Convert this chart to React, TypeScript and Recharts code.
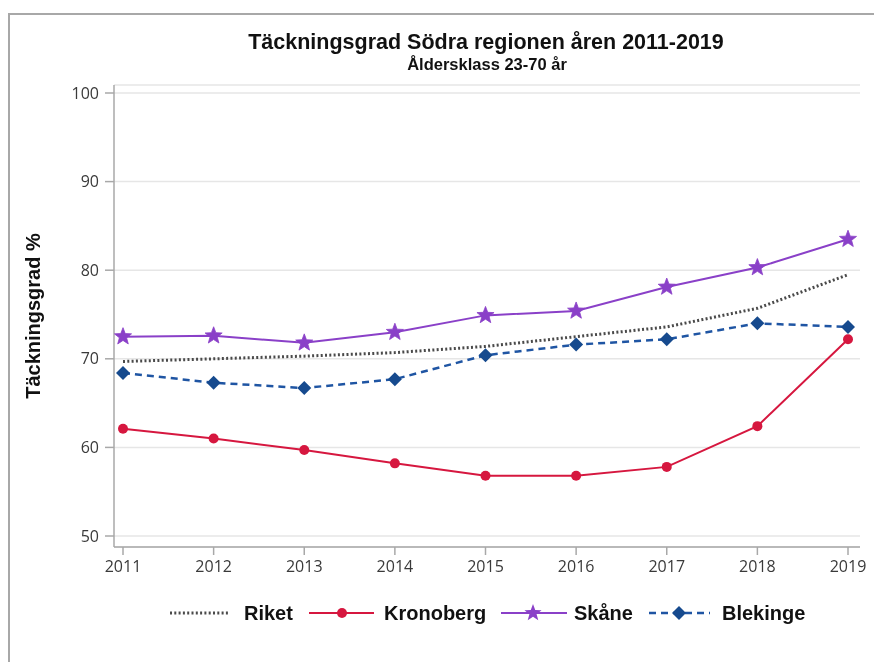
import { LineChart, Line, XAxis, YAxis, CartesianGrid, Legend } from 'recharts';

// values
const years = ['2011', '2012', '2013', '2014', '2015', '2016', '2017', '2018', '2019'];
const riket = [69.7, 70.0, 70.3, 70.7, 71.4, 72.5, 73.6, 75.7, 79.5];
const kronoberg = [62.1, 61.0, 59.7, 58.2, 56.8, 56.8, 57.8, 62.4, 72.2];
const skane = [72.5, 72.6, 71.8, 73.0, 74.9, 75.4, 78.1, 80.3, 83.5];
const blekinge = [68.4, 67.3, 66.7, 67.7, 70.4, 71.6, 72.2, 74.0, 73.6];
const yTicks = [50, 60, 70, 80, 90, 100];

const data = years.map((year, i) => ({
    year,
    Riket: riket[i],
    Kronoberg: kronoberg[i],
    Skåne: skane[i],
    Blekinge: blekinge[i],
}));

const RED = '#d6173f';
const PURPLE = '#8a40c8';
const BLUE = '#1f55a3';
const DIAMOND = '#164a8e';
const GREY = '#4a4a4a';

const starPath = (cx: number, cy: number, r: number) => {
    const pts: string[] = [];
    for (let i = 0; i < 10; i++) {
        const rad = i % 2 === 0 ? r : r * 0.42;
        const a = -Math.PI / 2 + (i * Math.PI) / 5;
        pts.push(`${cx + rad * Math.cos(a)},${cy + rad * Math.sin(a)}`);
    }
    return `M${pts.join('L')}Z`;
};

const StarDot = (props: any) => {
    const { cx, cy, index } = props;
    if (cx == null || cy == null) return <g key={`st-${index}`} />;
    return <path key={`st-${index}`} d={starPath(cx, cy, 9)} fill={PURPLE} stroke={PURPLE} strokeWidth={0.8} />;
};

const DiamondDot = (props: any) => {
    const { cx, cy, index } = props;
    if (cx == null || cy == null) return <g key={`dm-${index}`} />;
    const s = 7;
    return (
        <path
            key={`dm-${index}`}
            d={`M${cx},${cy - s}L${cx + s},${cy}L${cx},${cy + s}L${cx - s},${cy}Z`}
            fill={DIAMOND}
        />
    );
};

const legendText = { fontFamily: '"Liberation Sans", Arial, sans-serif', fontWeight: 700, fontSize: 20, fill: '#111' };

const renderLegend = () => (
    <svg width={866} height={30} style={{ display: 'block' }}>
        <g>
            <line x1={162} x2={221} y1={15} y2={15} stroke={GREY} strokeWidth={3} strokeDasharray="2 2.3" />
            <text x={236} y={22} {...legendText}>Riket</text>

            <line x1={301} x2={366} y1={15} y2={15} stroke={RED} strokeWidth={2} />
            <circle cx={334} cy={15} r={5} fill={RED} />
            <text x={376} y={22} {...legendText}>Kronoberg</text>

            <line x1={493} x2={559} y1={15} y2={15} stroke={PURPLE} strokeWidth={2} />
            <path d={starPath(525, 15, 9)} fill={PURPLE} />
            <text x={566} y={22} {...legendText}>Skåne</text>

            <line x1={641} x2={702} y1={15} y2={15} stroke={BLUE} strokeWidth={2.5} strokeDasharray="7 5" />
            <path d="M671,8L678,15L671,22L664,15Z" fill={DIAMOND} />
            <text x={714} y={22} {...legendText}>Blekinge</text>
        </g>
    </svg>
);

const tickStyle = { fontFamily: '"Open Sans", sans-serif', fontSize: 16, fill: '#3a3a3a' };

export default function App() {
    return (
        <div style={{ position: 'relative', width: 866, height: 640 }}>
            <div
                style={{
                    position: 'fixed',
                    top: 13,
                    left: 8,
                    right: 0,
                    bottom: 0,
                    borderTop: '2px solid #a8a8a8',
                    borderLeft: '2px solid #a8a8a8',
                    pointerEvents: 'none',
                }}
            />
            <div
                style={{
                    position: 'absolute',
                    top: 21,
                    left: 0,
                    width: 956,
                    textAlign: 'center',
                    fontFamily: '"Liberation Sans", Arial, sans-serif',
                    fontWeight: 700,
                    fontSize: 21.5,
                    color: '#111',
                    lineHeight: '26px',
                }}
            >
                Täckningsgrad Södra regionen åren 2011-2019
            </div>
            <div
                style={{
                    position: 'absolute',
                    top: 46,
                    left: 0,
                    width: 958,
                    textAlign: 'center',
                    fontFamily: '"Liberation Sans", Arial, sans-serif',
                    fontWeight: 700,
                    fontSize: 16.5,
                    color: '#111',
                    lineHeight: '20px',
                }}
            >
                Åldersklass 23-70 år
            </div>
            <LineChart width={866} height={640} data={data} margin={{ top: 77, right: 14, left: 0, bottom: 20 }}>
                <CartesianGrid vertical={false} stroke="#e6e6e6" strokeWidth={1.5} />
                <XAxis
                    dataKey="year"
                    height={51}
                    padding={{ left: 9, right: 12 }}
                    tick={tickStyle}
                    tickSize={8}
                    tickMargin={6}
                    stroke="#a8a8a8"
                    strokeWidth={1.5}
                    interval={0}
                />
                <YAxis
                    width={106}
                    type="number"
                    domain={[50, 100]}
                    ticks={yTicks}
                    padding={{ top: 8, bottom: 11 }}
                    tick={tickStyle}
                    tickSize={9}
                    tickMargin={6}
                    stroke="#a8a8a8"
                    strokeWidth={1.5}
                    label={{
                        value: 'Täckningsgrad %',
                        angle: -90,
                        position: 'insideLeft',
                        offset: 25,
                        style: {
                            textAnchor: 'middle',
                            fontFamily: '"Liberation Sans", Arial, sans-serif',
                            fontWeight: 700,
                            fontSize: 20,
                            fill: '#111',
                        },
                    }}
                />
                <Legend verticalAlign="bottom" height={30} content={renderLegend} />
                <Line
                    dataKey="Riket"
                    stroke={GREY}
                    strokeWidth={3}
                    strokeDasharray="2 2.3"
                    dot={false}
                    activeDot={false}
                    isAnimationActive={false}
                />
                <Line
                    dataKey="Kronoberg"
                    stroke={RED}
                    strokeWidth={2}
                    dot={{ r: 5, fill: RED, stroke: RED, strokeWidth: 0 }}
                    activeDot={false}
                    isAnimationActive={false}
                />
                <Line
                    dataKey="Skåne"
                    stroke={PURPLE}
                    strokeWidth={2}
                    dot={StarDot}
                    activeDot={false}
                    isAnimationActive={false}
                />
                <Line
                    dataKey="Blekinge"
                    stroke={BLUE}
                    strokeWidth={2.5}
                    strokeDasharray="7 5"
                    dot={DiamondDot}
                    activeDot={false}
                    isAnimationActive={false}
                />
            </LineChart>
        </div>
    );
}
